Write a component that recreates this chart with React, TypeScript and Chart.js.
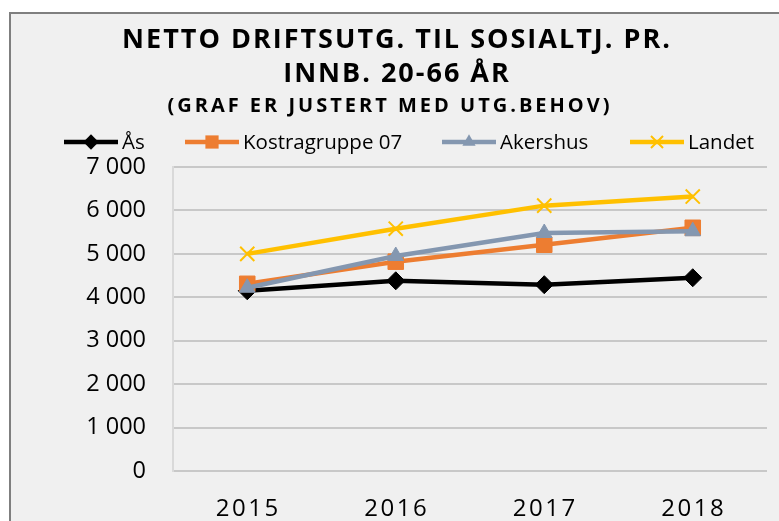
import React, { useEffect, useRef } from "react";
import { Chart, registerables } from "chart.js";

Chart.register(...registerables);

const categories = ["2015", "2016", "2017", "2018"];
const seriesNames = ["Ås", "Kostragruppe 07", "Akershus", "Landet"];
const asValues = [4150, 4380, 4290, 4450];
const kostraValues = [4310, 4820, 5210, 5600];
const akershusValues = [4220, 4950, 5480, 5520];
const landetValues = [5000, 5580, 6110, 6320];
const yTicks = [0, 1000, 2000, 3000, 4000, 5000, 6000, 7000];
const titleLines = ["NETTO DRIFTSUTG. TIL SOSIALTJ. PR.", "INNB. 20-66 ÅR"];
const subtitleText = "(GRAF ER JUSTERT MED UTG.BEHOV)";

const colors = ["#000000", "#ED7D31", "#8497B0", "#FFC000"];
const pointStyles = ["rectRot", "rect", "triangle", "crossRot"];
const pointRadii = [9, 11, 9, 10];
const FONT = "'Open Sans', sans-serif";

const fmt = (v: number) => {
  const s = String(Math.round(v));
  return s.length > 3 ? s.slice(0, s.length - 3) + " " + s.slice(-3) : s;
};

function drawMarker(ctx: CanvasRenderingContext2D, style: string, x: number, y: number, r: number, color: string) {
  ctx.save();
  ctx.fillStyle = color;
  ctx.strokeStyle = color;
  ctx.lineWidth = 2;
  ctx.beginPath();
  if (style === "rectRot") {
    ctx.moveTo(x, y - r);
    ctx.lineTo(x + r, y);
    ctx.lineTo(x, y + r);
    ctx.lineTo(x - r, y);
    ctx.closePath();
    ctx.fill();
  } else if (style === "rect") {
    const s = r * Math.SQRT1_2;
    ctx.rect(x - s, y - s, 2 * s, 2 * s);
    ctx.fill();
  } else if (style === "triangle") {
    ctx.moveTo(x, y - r);
    ctx.lineTo(x + r * 0.866, y + r * 0.5);
    ctx.lineTo(x - r * 0.866, y + r * 0.5);
    ctx.closePath();
    ctx.fill();
  } else {
    const d = r * Math.SQRT1_2;
    ctx.moveTo(x - d, y - d);
    ctx.lineTo(x + d, y + d);
    ctx.moveTo(x + d, y - d);
    ctx.lineTo(x - d, y + d);
    ctx.stroke();
  }
  ctx.restore();
}

const decorPlugin = {
  id: "decor",
  beforeDraw(chart: any) {
    const ctx = chart.ctx;
    ctx.save();
    ctx.fillStyle = "#ffffff";
    ctx.fillRect(0, 0, chart.width, chart.height);
    ctx.fillStyle = "#f0f0f0";
    ctx.fillRect(10, 13, chart.width - 10, chart.height - 13);
    ctx.fillStyle = "#7f7f7f";
    ctx.fillRect(9, 12, 2, chart.height - 12);
    ctx.fillRect(9, 12, chart.width - 9, 2);
    ctx.restore();
  },
  afterDraw(chart: any) {
    const ctx = chart.ctx;
    ctx.save();
    ctx.fillStyle = "#000000";
    ctx.textAlign = "center";
    ctx.textBaseline = "alphabetic";
    (ctx as any).letterSpacing = "2px";
    ctx.font = `bold 27px ${FONT}`;
    ctx.fillText(titleLines[0], 397, 48);
    ctx.fillText(titleLines[1], 397, 82);
    (ctx as any).letterSpacing = "3px";
    ctx.font = `bold 20px ${FONT}`;
    ctx.fillText(subtitleText, 390, 112);
    (ctx as any).letterSpacing = "2.5px";
    ctx.font = `24px ${FONT}`;
    const xs = chart.scales.x;
    categories.forEach((c, i) => {
      ctx.fillText(c, xs.getPixelForValue(i) + 1, 516);
    });
    (ctx as any).letterSpacing = "0px";
    ctx.textAlign = "left";
    ctx.textBaseline = "middle";
    ctx.font = `20.5px ${FONT}`;
    const legendX = [64, 185, 442, 630];
    const ly = 142;
    chart.data.datasets.forEach((ds: any, i: number) => {
      const x0 = legendX[i];
      ctx.strokeStyle = colors[i];
      ctx.lineWidth = 4.5;
      ctx.beginPath();
      ctx.moveTo(x0, ly);
      ctx.lineTo(x0 + 54, ly);
      ctx.stroke();
      drawMarker(ctx, pointStyles[i], x0 + 27, ly, pointRadii[i] * 0.85, colors[i]);
      ctx.fillStyle = "#000000";
      ctx.fillText(ds.label, x0 + 58, ly + 1);
    });
    ctx.restore();
  },
};

export default function App() {
  const ref = useRef<HTMLCanvasElement>(null);
  useEffect(() => {
    const prevMargin = document.body.style.margin;
    document.body.style.margin = "0";
    const values = [asValues, kostraValues, akershusValues, landetValues];
    const chart = new Chart(ref.current!, {
      type: "line",
      data: {
        labels: categories,
        datasets: values.map((v, i) => ({
          label: seriesNames[i],
          data: v,
          borderColor: colors[i],
          backgroundColor: colors[i],
          borderWidth: 4.5,
          pointStyle: pointStyles[i] as any,
          pointRadius: pointRadii[i],
          pointBorderWidth: i === 3 ? 2 : 1,
          pointBackgroundColor: colors[i],
          pointBorderColor: colors[i],
          tension: 0,
          order: 4 - i,
        })),
      },
      options: {
        responsive: false,
        animation: false,
        events: [],
        layout: { padding: { top: 167, right: 9, left: 0, bottom: 0 } },
        plugins: { legend: { display: false }, title: { display: false }, tooltip: { enabled: false } },
        scales: {
          x: {
            offset: true,
            grid: { display: false },
            border: { display: false },
            ticks: { display: false },
            afterFit: (s: any) => { s.height = 50; },
          },
          y: {
            min: 0,
            max: 7000,
            afterBuildTicks: (s: any) => { s.ticks = yTicks.map((v) => ({ value: v })); },
            grid: { color: "#c8c8c8", lineWidth: 2, drawTicks: false },
            border: { display: true, color: "#d9d9d9", width: 2 },
            ticks: {
              padding: 27,
              color: "#000000",
              font: { family: "'Open Sans', sans-serif", size: 23.5 },
              callback: (v: any) => fmt(Number(v)),
            },
            afterFit: (s: any) => { s.width = 173; },
          },
        },
      },
      plugins: [decorPlugin],
    });
    return () => {
      chart.destroy();
      document.body.style.margin = prevMargin;
    };
  }, []);
  return (
    <div style={{ width: 779, height: 521 }}>
      <canvas ref={ref} width={779} height={521} style={{ display: "block" }} />
    </div>
  );
}
